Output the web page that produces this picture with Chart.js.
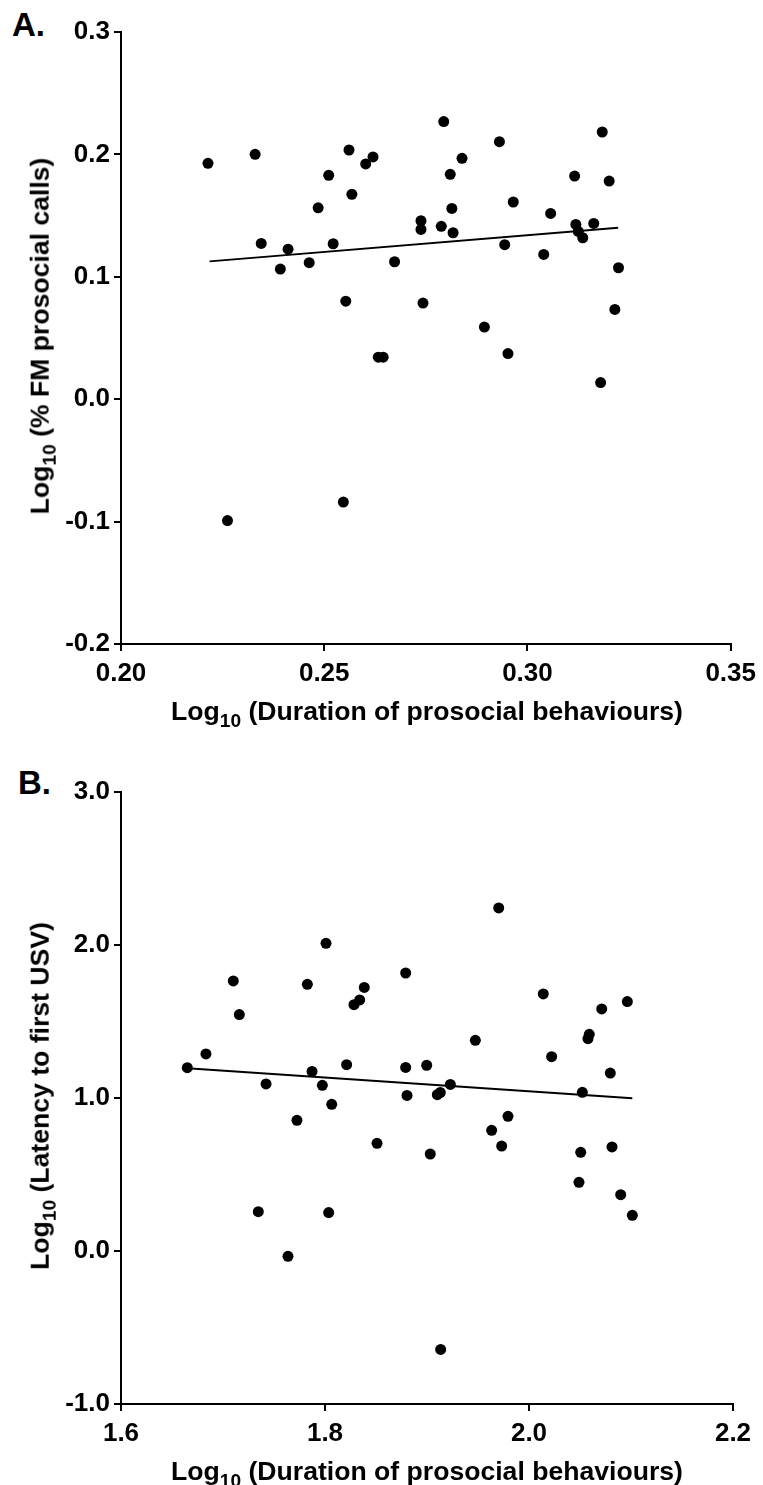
<!DOCTYPE html>
<html>
<head>
<meta charset="utf-8">
<script src="https://cdn.jsdelivr.net/npm/chart.js@4.4.1/dist/chart.umd.min.js"></script>
<style>
    body { margin: 0; background: #fff; }
    #page { position: relative; width: 763px; height: 1485px; font-family: "Liberation Sans", Arial, sans-serif; font-weight: bold; color: #000; }
    canvas { position: absolute; left: 0; }
    .panel-label { position: absolute; font-size: 33px; line-height: 1; }
    .x-title, .y-title { position: absolute; font-size: 26.6px; line-height: 1; white-space: nowrap; }
    .x-title { left: 121px; width: 612px; text-align: center; }
    .y-title { transform: translate(-50%, -50%) rotate(-90deg); }
    sub { font-size: 0.72em; vertical-align: -0.35em; line-height: 0; }
</style>
</head>
<body>
<div id="page">
    <div class="panel-label" style="left:12px; top:8px;">A.</div>
    <canvas id="chartA" width="763" height="700" style="top:0;"></canvas>
    <div class="y-title" style="left:40px; top:336px;">Log<sub>10</sub> (% FM prosocial calls)</div>
    <div class="x-title" style="top:698px;">Log<sub>10</sub> (Duration of prosocial behaviours)</div>

    <div class="panel-label" style="left:18px; top:766px;">B.</div>
    <canvas id="chartB" width="763" height="700" style="top:760px;"></canvas>
    <div class="y-title" style="left:40px; top:1096px;">Log<sub>10</sub> (Latency to first USV)</div>
    <div class="x-title" style="top:1458px;">Log<sub>10</sub> (Duration of prosocial behaviours)</div>
</div>

<script>
// --- panel A: log duration vs log % FM prosocial calls ---
const durationA = [0.2214, 0.2330, 0.2345, 0.2411, 0.2392, 0.2463, 0.2485, 0.2511, 0.2522, 0.2561,
    0.2568, 0.2553, 0.2602, 0.2620, 0.2673, 0.2738, 0.2738, 0.2743, 0.2794, 0.2931,
    0.2839, 0.2810, 0.3116, 0.3201, 0.3184, 0.2965, 0.2814, 0.3057, 0.2788, 0.2817,
    0.3119, 0.3163, 0.3125, 0.3136, 0.2944, 0.3040, 0.3224, 0.3215, 0.2894, 0.2952,
    0.3180, 0.2633, 0.2645, 0.2547, 0.2262];
const fmCallsA = [0.1927, 0.2001, 0.1273, 0.1226, 0.1063, 0.1115, 0.1564, 0.1829, 0.1270, 0.2036,
    0.1674, 0.0801, 0.1922, 0.1979, 0.1123, 0.1458, 0.1387, 0.0785, 0.2268, 0.2104,
    0.1968, 0.1837, 0.1823, 0.1782, 0.2183, 0.1611, 0.1559, 0.1518, 0.1412, 0.1360,
    0.1428, 0.1436, 0.1371, 0.1319, 0.1262, 0.1183, 0.1074, 0.0733, 0.0589, 0.0373,
    0.0136, 0.0343, 0.0343, -0.0840, -0.0992];
const fitAX = [0.2218, 0.3223];
const fitAY = [0.1126, 0.1401];
const xTicksA = [0.20, 0.25, 0.30, 0.35];
const yTicksA = [-0.2, -0.1, 0.0, 0.1, 0.2, 0.3];

// --- panel B: log duration vs log latency to first USV ---
const durationB = [1.6650, 1.6833, 1.7101, 1.7160, 1.7422, 1.7827, 1.7873, 1.8010, 1.7974, 1.8212,
    1.8284, 1.8340, 1.8385, 1.8791, 1.8791, 1.8997, 1.8804, 1.8066, 1.9703, 2.0140,
    2.0713, 2.0964, 1.9474, 2.0591, 2.0578, 2.0222, 2.0797, 1.9229, 1.9101, 1.9130,
    2.0523, 1.9794, 1.9634, 1.9732, 1.9032, 2.0507, 2.0814, 2.0490, 2.0899, 2.1013,
    1.9134, 1.7725, 1.8510, 1.7346, 1.8036, 1.7637];
const latencyB = [1.198, 1.288, 1.765, 1.545, 1.092, 1.743, 1.174, 2.011, 1.083, 1.218,
    1.610, 1.641, 1.723, 1.817, 1.200, 1.214, 1.017, 0.959, 2.242, 1.680,
    1.582, 1.630, 1.377, 1.416, 1.388, 1.270, 1.163, 1.089, 1.022, 1.036,
    1.037, 0.880, 0.789, 0.686, 0.634, 0.645, 0.680, 0.449, 0.368, 0.233,
    -0.643, 0.854, 0.704, 0.257, 0.251, -0.035];
const fitBX = [1.6650, 2.1013];
const fitBY = [1.195, 0.998];
const xTicksB = [1.6, 1.8, 2.0, 2.2];
const yTicksB = [-1.0, 0.0, 1.0, 2.0, 3.0];

const FONT = { family: '"Liberation Sans", Arial, sans-serif', size: 26, weight: 'bold' };

function toPoints(xs, ys) {
    return xs.map((x, i) => ({ x: x, y: ys[i] }));
}

function axis(ticks, decimals, isX) {
    return {
        type: 'linear',
        min: ticks[0],
        max: ticks[ticks.length - 1],
        afterBuildTicks: (scale) => { scale.ticks = ticks.map(v => ({ value: v })); },
        afterFit: (scale) => {
            if (isX) scale.height = 56; else scale.width = 121;
        },
        grid: { display: true, drawOnChartArea: false, drawTicks: true, tickLength: 7, color: '#000', lineWidth: 2 },
        border: { display: true, color: '#000', width: 2 },
        ticks: {
            color: '#000',
            font: FONT,
            padding: isX ? 7 : 4,
            maxRotation: 0,
            autoSkip: false,
            callback: (v) => Number(v).toFixed(decimals)
        }
    };
}

function buildPanel(canvasId, xs, ys, fitX, fitY, xTicks, yTicks, xDec, yDec) {
    const ctx = document.getElementById(canvasId).getContext('2d');
    return new Chart(ctx, {
        type: 'scatter',
        data: {
            datasets: [
                {
                    data: toPoints(fitX, fitY),
                    showLine: true,
                    borderColor: '#000',
                    borderWidth: 2,
                    pointRadius: 0
                },
                {
                    data: toPoints(xs, ys),
                    backgroundColor: '#000',
                    borderColor: '#000',
                    pointRadius: 5.5,
                    borderWidth: 0
                }
            ]
        },
        options: {
            responsive: false,
            animation: false,
            layout: { padding: { top: 32, right: 30, left: 0, bottom: 0 } },
            scales: {
                x: axis(xTicks, xDec, true),
                y: axis(yTicks, yDec, false)
            },
            plugins: {
                legend: { display: false },
                tooltip: { enabled: false }
            }
        }
    });
}

buildPanel('chartA', durationA, fmCallsA, fitAX, fitAY, xTicksA, yTicksA, 2, 1);
buildPanel('chartB', durationB, latencyB, fitBX, fitBY, xTicksB, yTicksB, 1, 1);
</script>
</body>
</html>
